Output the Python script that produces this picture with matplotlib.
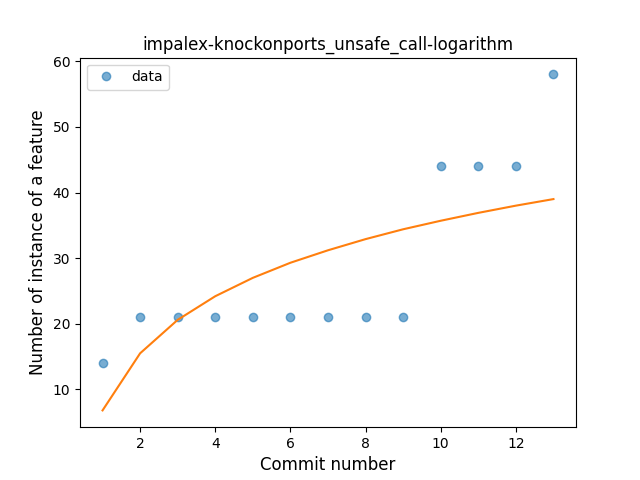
import matplotlib
matplotlib.use("Agg")
import matplotlib.pyplot as plt

# --- Data ---
commits = [1, 2, 3, 4, 5, 6, 7, 8, 9, 10, 11, 12, 13]
counts = [14, 21, 21, 21, 21, 21, 21, 21, 21, 44, 44, 44, 58]
# logarithmic fit curve
fit_values = [6.8, 15.5, 20.6, 24.2, 27.0, 29.3, 31.2, 32.9, 34.4, 35.7, 36.9, 38.0, 39.0]

fig, ax = plt.subplots(figsize=(6.4, 4.8), dpi=100)
ax.plot(commits, counts, 'o', alpha=0.6, label='data')
ax.plot(commits, fit_values, '-')

ax.set_title('impalex-knockonports_unsafe_call-logarithm')
ax.set_xlabel('Commit number', fontsize=12)
ax.set_ylabel('Number of instance of a feature', fontsize=12)
ax.legend(loc='upper left')

fig.savefig('out.png')
